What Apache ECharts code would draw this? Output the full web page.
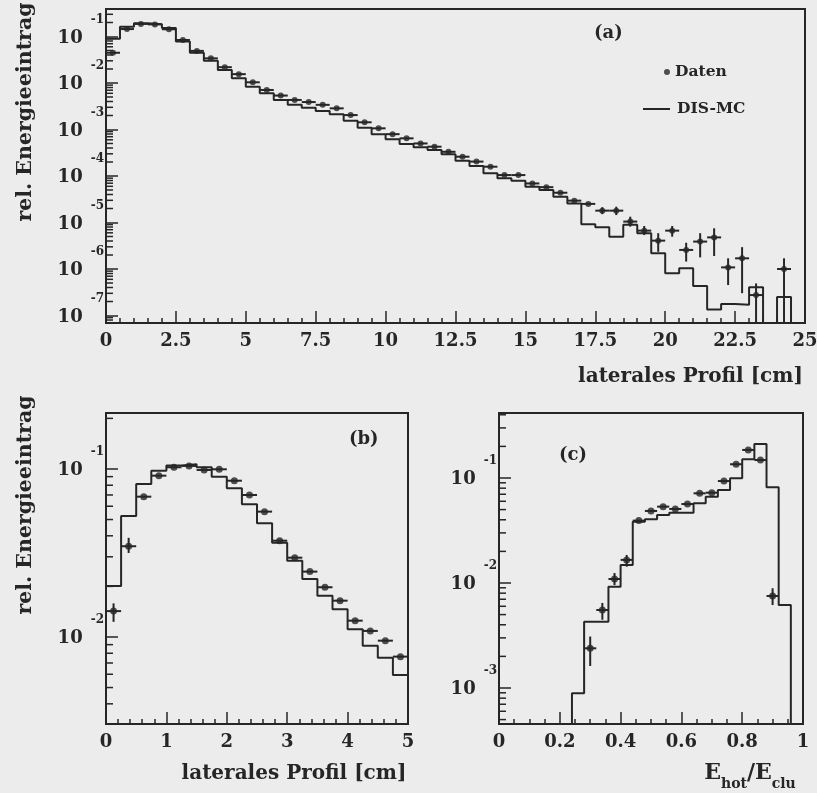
<!DOCTYPE html>
<html><head><meta charset="utf-8">
<script src="https://cdn.jsdelivr.net/npm/echarts@6/dist/echarts.min.js"></script>
<style>html,body{margin:0;padding:0;background:#ececec}#c{width:817px;height:793px}</style>
</head><body><div id="c"></div><script>
// ---------------- data (values are log10 of the relative energy) ----------------
// panel (a): lateral profile 0-25 cm, 0.5 cm bins
const aCenters = [0.25,0.75,1.25,1.75,2.25,2.75,3.25,3.75,4.25,4.75,5.25,5.75,6.25,6.75,7.25,7.75,8.25,8.75,9.25,9.75,
  10.25,10.75,11.25,11.75,12.25,12.75,13.25,13.75,14.25,14.75,15.25,15.75,16.25,16.75,17.25,17.75,18.25,18.75,19.25,19.75,
  20.25,20.75,21.25,21.75,22.25,22.75,23.25,24.25];
const aDatenLog = [-1.35,-0.84,-0.73,-0.74,-0.845,-1.075,-1.31,-1.47,-1.66,-1.81,
  -1.985,-2.15,-2.27,-2.365,-2.41,-2.47,-2.545,-2.69,-2.845,-2.975,
  -3.10,-3.19,-3.30,-3.37,-3.48,-3.585,-3.69,-3.80,-3.98,-3.98,
  -4.16,-4.24,-4.36,-4.53,-4.60,-4.745,-4.745,-4.98,-5.175,-5.39,
  -5.175,-5.59,-5.41,-5.32,-5.965,-5.77,-6.56,-6.0];
const aErrCenters = [17.75,18.25,18.75,19.25,19.75,20.25,20.75,21.25,21.75,22.25,22.75,23.25,24.25];
const aErrLoLog   = [-4.82,-4.84,-5.09,-5.27,-5.63,-5.305,-5.84,-5.75,-5.72,-6.345,-6.52,-7.5,-7.5];
const aErrHiLog   = [-4.67,-4.66,-4.875,-5.075,-5.23,-5.075,-5.435,-5.23,-5.125,-5.77,-5.53,-6.31,-5.77];
const aEdges = [0,0.5,1,1.5,2,2.5,3,3.5,4,4.5,5,5.5,6,6.5,7,7.5,8,8.5,9,9.5,10,10.5,11,11.5,12,12.5,13,13.5,14,14.5,
  15,15.5,16,16.5,17,17.5,18,18.5,19,19.5,20,20.5,21,21.5,22,22.5,23,23.5,24,24.5,25];
const aMcLog = [-1.05,-0.79,-0.716,-0.738,-0.82,-1.11,-1.35,-1.52,-1.72,-1.90,
  -2.08,-2.22,-2.365,-2.47,-2.53,-2.60,-2.67,-2.81,-2.96,-3.10,
  -3.21,-3.31,-3.38,-3.44,-3.53,-3.67,-3.785,-3.94,-4.05,-4.10,
  -4.23,-4.30,-4.445,-4.59,-5.04,-5.10,-5.305,-5.05,-5.23,-5.66,
  -6.09,-5.985,-6.365,-6.87,-6.75,-6.77,-6.39,null,-6.6,null];
const aXTicks = {min:0, max:25, interval:2.5, minor:5};
const aYRange = [-7.161, -0.409];

// panel (b): lateral profile 0-5 cm, 0.25 cm bins
const bCenters = [0.125,0.375,0.625,0.875,1.125,1.375,1.625,1.875,2.125,2.375,2.625,2.875,3.125,3.375,3.625,3.875,4.125,4.375,4.625,4.875];
const bDatenLog = [-1.846,-1.46,-1.165,-1.04,-0.99,-0.982,-1.006,-1.002,-1.07,-1.155,-1.254,-1.427,-1.528,-1.611,-1.704,-1.784,-1.903,-1.964,-2.022,-2.117];
const bErrCenters = [0.125,0.375];
const bErrLoLog = [-1.91,-1.50];
const bErrHiLog = [-1.80,-1.41];
const bEdges = [0,0.25,0.5,0.75,1,1.25,1.5,1.75,2,2.25,2.5,2.75,3,3.25,3.5,3.75,4,4.25,4.5,4.75,5];
const bMcLog = [-1.696,-1.28,-1.089,-1.01,-0.98,-0.972,-0.99,-1.046,-1.115,-1.21,-1.323,-1.439,-1.546,-1.655,-1.754,-1.835,-1.954,-2.052,-2.123,-2.226];
const bXTicks = {min:0, max:5, interval:1, minor:5};
const bYRange = [-2.518, -0.667];

// panel (c): E_hot/E_clu 0-1, 0.04 bins
const cCenters = [0.30,0.34,0.38,0.42,0.46,0.50,0.54,0.58,0.62,0.66,0.70,0.74,0.78,0.82,0.86,0.90];
const cDatenLog = [-2.622,-2.257,-1.962,-1.78,-1.406,-1.314,-1.273,-1.295,-1.248,-1.146,-1.14,-1.029,-0.869,-0.733,-0.829,-2.124];
const cErrCenters = [0.30,0.34,0.38,0.42,0.90];
const cErrLoLog = [-2.79,-2.35,-2.02,-1.845,-2.21];
const cErrHiLog = [-2.51,-2.19,-1.905,-1.733,-2.05];
const cEdges = [0,0.04,0.08,0.12,0.16,0.2,0.24,0.28,0.32,0.36,0.4,0.44,0.48,0.52,0.56,0.6,0.64,0.68,0.72,0.76,0.8,0.84,0.88,0.92,0.96,1];
const cMcLog = [null,null,null,null,null,null,-3.05,-2.369,-2.369,-2.035,-1.829,-1.416,-1.394,-1.352,-1.33,-1.33,-1.241,-1.178,-1.114,-1.003,-0.822,-0.676,-1.089,-2.21,null];
const cXTicks = {min:0, max:1, interval:0.2, minor:4};
const cYRange = [-3.343, -0.381];

const MINOR_MANTISSAS = [2,3,4,5,6,7,8,9];

// ---------------- helpers ----------------
const INK = '#262626';
const FONT = '"DejaVu Serif", serif';
const P = v => Math.pow(10, v);
const FLOOR = 1e-12; // empty bin: drawn below the axis and clipped

function stepData(edges, logs) {
  const d = logs.map((v, i) => [edges[i], v == null ? FLOOR : P(v)]);
  const last = logs[logs.length - 1];
  d.push([edges[edges.length - 1], last == null ? FLOOR : P(last)]);
  return d;
}
function pointData(centers, logs) { return centers.map((c, i) => [c, P(logs[i])]); }
function errData(centers, halfW, logs, eC, eLo, eHi) {
  return centers.map((c, i) => {
    const k = eC.indexOf(c);
    const y = P(logs[i]);
    return [c, y, c - halfW, c + halfW, k >= 0 ? P(eLo[k]) : y, k >= 0 ? P(eHi[k]) : y];
  });
}
function minorData(xMin, yr) {
  const out = [];
  for (let e = Math.floor(yr[0]); e < Math.ceil(yr[1]); e++) {
    MINOR_MANTISSAS.forEach(m => {
      const lv = Math.log10(m) + e;
      if (lv > yr[0] && lv < yr[1]) out.push([xMin, m * Math.pow(10, e)]);
    });
  }
  return out;
}
function renderErr(params, api) {
  const y = api.value(1);
  const l = api.coord([api.value(2), y]), r = api.coord([api.value(3), y]);
  const lo = api.coord([api.value(0), api.value(4)]), hi = api.coord([api.value(0), api.value(5)]);
  const st = {stroke: INK, lineWidth: 2};
  const ch = [{type: 'line', shape: {x1: l[0], y1: l[1], x2: r[0], y2: r[1]}, style: st}];
  if (Math.abs(lo[1] - hi[1]) > 0.5) ch.push({type: 'line', shape: {x1: lo[0], y1: lo[1], x2: hi[0], y2: hi[1]}, style: st});
  return {type: 'group', children: ch};
}
function renderMinor(params, api) {
  const c = api.coord([api.value(0), api.value(1)]);
  return {type: 'line', shape: {x1: c[0], y1: c[1], x2: c[0] + 7, y2: c[1]}, style: {stroke: INK, lineWidth: 1.5}};
}

const lineAxis = {show: true, onZero: false, lineStyle: {color: INK, width: 2}};
function makeX(gi, t, name, nameGap, nameStyle) {
  return {
    type: 'value', gridIndex: gi, min: t.min, max: t.max, interval: t.interval,
    axisLine: lineAxis,
    axisTick: {show: true, inside: true, length: 12, lineStyle: {color: INK, width: 1.5}},
    minorTick: {show: true, splitNumber: t.minor, length: 5, lineStyle: {color: INK, width: 1.5}},
    splitLine: {show: false}, minorSplitLine: {show: false},
    axisLabel: {fontFamily: FONT, fontWeight: 'bold', fontSize: 18, color: INK, margin: 9},
    name: name, nameLocation: 'middle', nameGap: nameGap,
    nameTextStyle: Object.assign({fontFamily: FONT, fontWeight: 'bold', fontSize: 20, color: INK, lineHeight: 24}, nameStyle)
  };
}
function makeY(gi, yr, name, namePad) {
  const ax = {
    type: 'log', logBase: 10, gridIndex: gi, min: P(yr[0]), max: P(yr[1]),
    axisLine: lineAxis,
    axisTick: {show: true, inside: true, length: 12, lineStyle: {color: INK, width: 1.5}},
    splitLine: {show: false},
    axisLabel: {
      margin: 2,
      formatter: v => {
        const e = Math.log10(v), r = Math.round(e);
        if (Math.abs(e - r) > 1e-6) return '';
        return '{b|10}{e|' + r + '}';
      },
      rich: {
        b: {fontFamily: FONT, fontWeight: 'bold', fontSize: 18, color: INK, lineHeight: 46, verticalAlign: 'middle', padding: [3, 0, 0, 0]},
        e: {fontFamily: FONT, fontWeight: 'bold', fontSize: 12, color: INK, lineHeight: 14, verticalAlign: 'top', padding: [0, 0, 0, 8]}
      }
    }
  };
  if (name) {
    Object.assign(ax, {name: name, nameLocation: 'middle', nameRotate: 90, nameGap: 70,
      nameTextStyle: {fontFamily: FONT, fontWeight: 'bold', fontSize: 20.5, color: INK, padding: [0, 0, 0, namePad]}});
  }
  return ax;
}
const gridBase = {show: true, borderColor: INK, borderWidth: 2, backgroundColor: 'transparent', containLabel: false, outerBoundsMode: 'none'};

const option = {
  animation: false,
  backgroundColor: '#ececec',
  grid: [
    Object.assign({left: 106, top: 9, width: 699, height: 314}, gridBase),
    Object.assign({left: 106, top: 413, width: 302, height: 311}, gridBase),
    Object.assign({left: 499, top: 413, width: 304, height: 311}, gridBase)
  ],
  xAxis: [
    makeX(0, aXTicks, 'laterales Profil [cm]', 42, {padding: [0, 0, 0, 470]}),
    makeX(1, bXTicks, 'laterales Profil [cm]', 38, {padding: [0, 0, 0, 74]}),
    makeX(2, cXTicks, '{m|E}{s|hot}{m|/E}{s|clu}', 38, {padding: [0, 0, 0, 198], rich: {
      m: {fontFamily: FONT, fontWeight: 'bold', fontSize: 22, color: INK, lineHeight: 24, verticalAlign: 'top'},
      s: {fontFamily: FONT, fontWeight: 'bold', fontSize: 14, color: INK, lineHeight: 14, verticalAlign: 'top', padding: [15, 0, 0, 0]}
    }})
  ],
  yAxis: [
    makeY(0, aYRange, 'rel. Energieeintrag', 108),
    makeY(1, bYRange, 'rel. Energieeintrag', 127),
    makeY(2, cYRange, null, 0)
  ],
  title: [
    {text: '(a)', left: 594, top: 24, padding: 0, textStyle: {fontFamily: FONT, fontWeight: 'bold', fontSize: 18, color: INK}},
    {text: '(b)', left: 349, top: 430, padding: 0, textStyle: {fontFamily: FONT, fontWeight: 'bold', fontSize: 18, color: INK}},
    {text: '(c)', left: 559, top: 446, padding: 0, textStyle: {fontFamily: FONT, fontWeight: 'bold', fontSize: 18, color: INK}}
  ],
  legend: [
    {data: [{name: 'Daten', icon: 'circle'}], left: 664, top: 64, padding: 0, itemWidth: 6, itemHeight: 6,
      textStyle: {fontFamily: FONT, fontWeight: 'bold', fontSize: 15.5, color: INK}, selectedMode: false},
    {data: [{name: 'DIS-MC', icon: 'rect'}], left: 643, top: 101, padding: 0, itemWidth: 27, itemHeight: 2,
      textStyle: {fontFamily: FONT, fontWeight: 'bold', fontSize: 15.5, color: INK, padding: [0, 0, 0, 2]}, selectedMode: false}
  ],
  series: []
};

const panels = [
  {gi: 0, edges: aEdges, mc: aMcLog, c: aCenters, d: aDatenLog, hw: 0.25, eC: aErrCenters, eLo: aErrLoLog, eHi: aErrHiLog, yr: aYRange, xmin: aXTicks.min, sym: 6},
  {gi: 1, edges: bEdges, mc: bMcLog, c: bCenters, d: bDatenLog, hw: 0.125, eC: bErrCenters, eLo: bErrLoLog, eHi: bErrHiLog, yr: bYRange, xmin: bXTicks.min, sym: 7},
  {gi: 2, edges: cEdges, mc: cMcLog, c: cCenters, d: cDatenLog, hw: 0.02, eC: cErrCenters, eLo: cErrLoLog, eHi: cErrHiLog, yr: cYRange, xmin: cXTicks.min, sym: 7}
];
panels.forEach(p => {
  option.series.push({
    name: 'DIS-MC', type: 'line', step: 'end', xAxisIndex: p.gi, yAxisIndex: p.gi,
    data: stepData(p.edges, p.mc), symbol: 'none', clip: true,
    lineStyle: {color: INK, width: 2}, itemStyle: {color: INK}, z: 3
  });
  option.series.push({
    name: 'errors', type: 'custom', xAxisIndex: p.gi, yAxisIndex: p.gi, clip: true,
    data: errData(p.c, p.hw, p.d, p.eC, p.eLo, p.eHi), encode: {x: 0, y: 1},
    renderItem: renderErr, silent: true, z: 4
  });
  option.series.push({
    name: 'Daten', type: 'scatter', xAxisIndex: p.gi, yAxisIndex: p.gi,
    data: pointData(p.c, p.d), symbol: 'circle', symbolSize: p.sym,
    itemStyle: {color: INK}, z: 5, silent: true
  });
  option.series.push({
    name: 'minorTicks', type: 'custom', xAxisIndex: p.gi, yAxisIndex: p.gi,
    data: minorData(p.xmin, p.yr), encode: {x: 0, y: 1},
    renderItem: renderMinor, silent: true, z: 6
  });
});

const chart = echarts.init(document.getElementById('c'), null, {renderer: 'canvas'});
chart.setOption(option);
</script></body></html>
